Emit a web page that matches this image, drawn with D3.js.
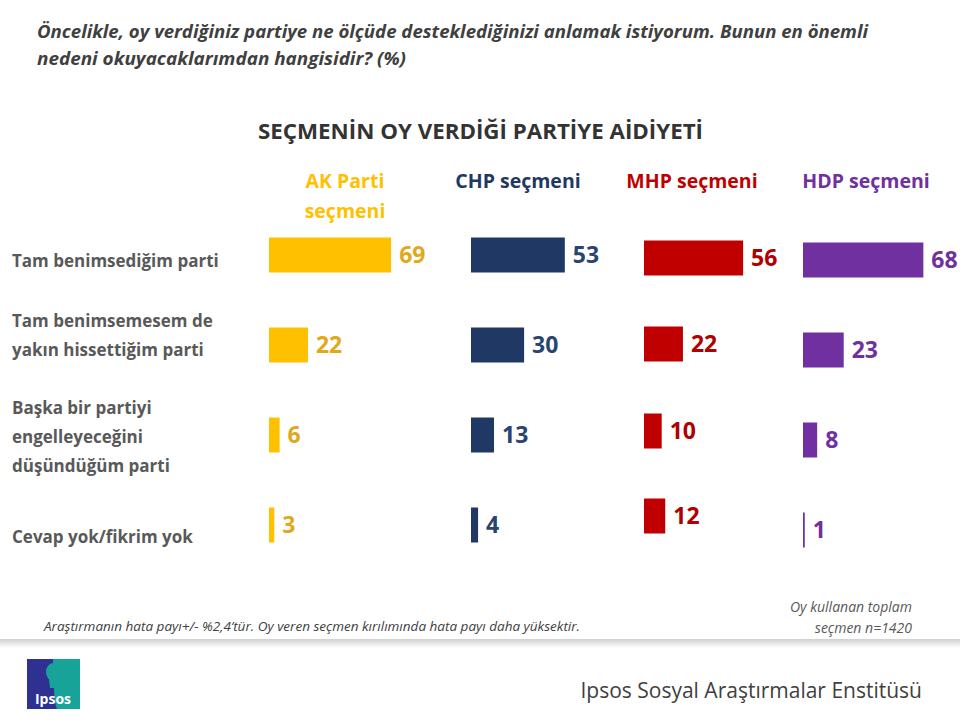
<!DOCTYPE html>
<html><head><meta charset="utf-8">
<script src="https://cdn.jsdelivr.net/npm/d3@7"></script>
<style>body{margin:0;background:#fff}svg{display:block}</style>
</head><body>
<svg id="c" width="960" height="720"></svg>
<script>
const categories = [
  ["Tam benimsediğim parti"],
  ["Tam benimsemesem de", "yakın hissettiğim parti"],
  ["Başka bir partiyi", "engelleyeceğini", "düşündüğüm  parti"],
  ["Cevap yok/fikrim yok"]
];
const groups = ["AK Parti seçmeni", "CHP seçmeni", "MHP seçmeni", "HDP seçmeni"];
const akValues = [69, 22, 6, 3];
const chpValues = [53, 30, 13, 4];
const mhpValues = [56, 22, 10, 12];
const hdpValues = [68, 23, 8, 1];

const series = [akValues, chpValues, mhpValues, hdpValues];
const barColors = ["#FFC000", "#1F3864", "#C00000", "#7030A0"];
const labelColors = ["#E0A91C", "#2A4470", "#B00000", "#7030A0"];
const groupX = [269, 471, 644, 803];
const groupDy = [[0,0,0,0],[0,0,0,0],[3,-1,-4,-9],[5,5,5,5]];

const svg = d3.select("#c");
const font = "'Open Sans', sans-serif";

// question
svg.append("text").attr("x", 37).attr("y", 38)
  .attr("font-family", font).attr("font-style", "italic").attr("font-weight", 700)
  .attr("font-size", 17).attr("fill", "#404040")
  .attr("textLength", 831).attr("lengthAdjust", "spacingAndGlyphs")
  .text("Öncelikle, oy verdiğiniz partiye ne ölçüde desteklediğinizi  anlamak istiyorum. Bunun en önemli");
svg.append("text").attr("x", 37).attr("y", 65)
  .attr("font-family", font).attr("font-style", "italic").attr("font-weight", 700)
  .attr("font-size", 17).attr("fill", "#404040")
  .attr("textLength", 369).attr("lengthAdjust", "spacingAndGlyphs")
  .text("nedeni okuyacaklarımdan  hangisidir?  (%)");

// title
svg.append("text").attr("x", 258).attr("y", 139)
  .attr("font-family", font).attr("font-weight", 700).attr("font-size", 21)
  .attr("textLength", 445).attr("lengthAdjust", "spacingAndGlyphs")
  .attr("fill", "#333").text("SEÇMENİN OY VERDİĞİ PARTİYE AİDİYETİ");

const x = d3.scaleLinear().domain([0, 100]).range([0, 177]);
const y = d3.scalePoint().domain(d3.range(categories.length)).range([255, 525]);
const barH = 35;

// category labels
const labelShift = [6, -10, 2, 12];
categories.forEach((lines, i) => {
  const n = lines.length;
  const t = svg.append("text").attr("font-family", font).attr("font-weight", 700)
    .attr("font-size", 17).attr("fill", "#595959");
  const cy = y(i) + labelShift[i];
  lines.forEach((l, j) => {
    t.append("tspan").attr("x", 12).attr("y", cy + 6 + (j - (n - 1) / 2) * 29).text(l);
  });
});

// group headers
const headerLines = [["AK Parti", "seçmeni"], ["CHP seçmeni"], ["MHP seçmeni"], ["HDP seçmeni"]];
const headerCx = [345, 518, 692, 866];
headerLines.forEach((lines, g) => {
  const t = svg.append("text").attr("text-anchor", "middle").attr("font-family", font)
    .attr("font-weight", 700).attr("font-size", 19.5).attr("fill", barColors[g]);
  lines.forEach((l, j) => t.append("tspan").attr("x", headerCx[g]).attr("y", 188 + j * 30).text(l));
});

// bars
series.forEach((vals, g) => {
  const gg = svg.append("g").attr("transform", `translate(${groupX[g]},0)`);
  gg.selectAll("rect").data(vals).join("rect")
    .attr("x", 0).attr("y", (d, i) => y(i) - barH / 2 + groupDy[g][i])
    .attr("width", d => x(d)).attr("height", barH).attr("fill", barColors[g]);
  gg.selectAll("text").data(vals).join("text")
    .attr("x", d => x(d) + 8).attr("y", (d, i) => y(i) + 8 + groupDy[g][i])
    .attr("font-family", font).attr("font-weight", 700).attr("font-size", 23)
    .attr("fill", labelColors[g]).text(d => d);
});

// footnotes
svg.append("text").attr("x", 44).attr("y", 631).attr("font-family", font)
  .attr("font-style", "italic").attr("font-size", 13).attr("fill", "#404040")
  .attr("textLength", 536).attr("lengthAdjust", "spacingAndGlyphs")
  .text("Araştırmanın hata payı+/- %2,4’tür. Oy veren seçmen kırılımında hata payı daha yüksektir.");
svg.append("text").attr("x", 912).attr("y", 612).attr("text-anchor", "end").attr("font-family", font)
  .attr("font-style", "italic").attr("font-size", 14).attr("fill", "#595959").text("Oy kullanan toplam");
svg.append("text").attr("x", 912).attr("y", 633).attr("text-anchor", "end").attr("font-family", font)
  .attr("font-style", "italic").attr("font-size", 14).attr("fill", "#595959").text("seçmen n=1420");

// separator
const defs = svg.append("defs");
const lg = defs.append("linearGradient").attr("id", "sh").attr("x1", 0).attr("y1", 0).attr("x2", 0).attr("y2", 1);
lg.append("stop").attr("offset", 0).attr("stop-color", "#d0d0d0");
lg.append("stop").attr("offset", 1).attr("stop-color", "#ffffff");
svg.append("rect").attr("x", 0).attr("y", 639).attr("width", 960).attr("height", 9).attr("fill", "url(#sh)");

// logo
const logo = svg.append("g").attr("transform", "translate(27,659)");
logo.append("rect").attr("width", 53).attr("height", 50).attr("fill", "#2E3192");
logo.append("path").attr("d", "M26,0 L53,0 L53,50 L30,50 C26,40 28,30 26,20 Z").attr("fill", "#17A398");
logo.append("ellipse").attr("cx", 26).attr("cy", 13).attr("rx", 7).attr("ry", 9).attr("fill", "#17A398");
logo.append("path").attr("d", "M22,20 L30,20 L29,29 L23,29 Z").attr("fill", "#17A398");
logo.append("text").attr("x", 26).attr("y", 45).attr("text-anchor", "middle").attr("font-family", font)
  .attr("font-weight", 700).attr("font-size", 14).attr("fill", "#fff").text("Ipsos");

svg.append("text").attr("x", 922).attr("y", 698).attr("text-anchor", "end").attr("font-family", font)
  .attr("font-size", 21).attr("fill", "#404040").text("Ipsos Sosyal Araştırmalar Enstitüsü");
</script>
</body></html>
